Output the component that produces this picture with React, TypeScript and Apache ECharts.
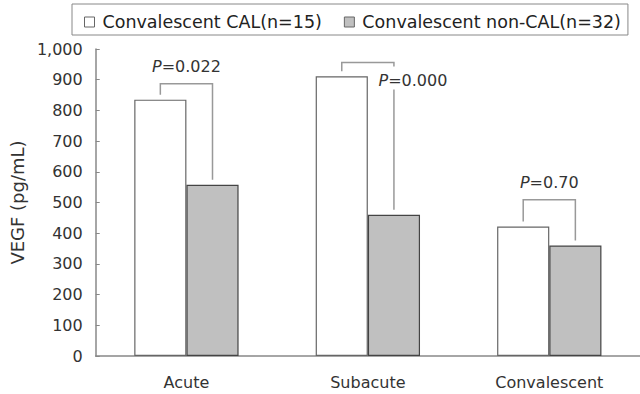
import React, { useEffect, useRef } from "react";
import * as echarts from "echarts";

// VEGF levels by disease phase
const phases = ["Acute", "Subacute", "Convalescent"];
const calValues = [835, 911, 422];
const nonCalValues = [558, 460, 360];
const bracketTops = [887, 956, 509];
const pLabels = ["0.022", "0.000", "0.70"];
const labelBesideLeg = [false, true, false];
const yTicks = [0, 100, 200, 300, 400, 500, 600, 700, 800, 900, 1000];

const seriesNames = ["Convalescent CAL(n=15)", "Convalescent non-CAL(n=32)"];

const FONT = "DejaVu Sans";
const CATEGORY_GAP = 0.425;

export default function App() {
  const ref = useRef<HTMLDivElement>(null);

  useEffect(() => {
    if (!ref.current) return;
    const chart = echarts.init(ref.current, undefined, { renderer: "svg" });

    const bracketData = phases.map((_, i) => [
      i,
      calValues[i],
      nonCalValues[i],
      bracketTops[i],
    ]);

    const lineStyle = { stroke: "#999", lineWidth: 1.5, fill: null };

    const option: any = {
      animation: false,
      backgroundColor: "#fff",
      textStyle: { fontFamily: FONT },
      legend: {
        left: 72,
        top: 4,
        padding: [9, 7, 4, 12],
        itemGap: 22,
        itemWidth: 10,
        itemHeight: 10,
        icon: "rect",
        borderColor: "#888",
        borderWidth: 1,
        textStyle: {
          fontFamily: FONT,
          fontSize: 17.5,
          color: "#222",
          padding: [0, 0, 0, 3],
        },
        data: [
          {
            name: seriesNames[0],
            itemStyle: { color: "#fff", borderColor: "#666", borderWidth: 1 },
          },
          {
            name: seriesNames[1],
            itemStyle: { color: "#c0c0c0", borderColor: "#666", borderWidth: 1 },
          },
        ],
      },
      grid: { left: 89, top: 49, width: 564, height: 307 },
      xAxis: {
        type: "category",
        data: phases,
        axisLine: { lineStyle: { color: "#888", width: 1.5 } },
        axisTick: { inside: true, length: 4, lineStyle: { color: "#888" } },
        axisLabel: {
          fontFamily: FONT,
          fontSize: 16,
          color: "#333",
          margin: 18,
        },
      },
      yAxis: {
        type: "value",
        min: yTicks[0],
        max: yTicks[yTicks.length - 1],
        interval: 100,
        name: "VEGF (pg/mL)",
        nameLocation: "middle",
        nameGap: 49,
        nameTextStyle: { fontFamily: FONT, fontSize: 18, color: "#333" },
        axisLine: { show: true, lineStyle: { color: "#888", width: 1.5 } },
        axisTick: { show: true, inside: true, length: 4, lineStyle: { color: "#888" } },
        splitLine: { show: false },
        axisLabel: {
          fontFamily: FONT,
          fontSize: 16,
          color: "#333",
          margin: 13,
          formatter: (v: number) => v.toLocaleString("en-US"),
        },
      },
      series: [
        {
          name: seriesNames[0],
          type: "bar",
          data: calValues,
          barGap: "0%",
          barCategoryGap: CATEGORY_GAP * 100 + "%",
          itemStyle: { color: "#fff", borderColor: "#666", borderWidth: 1.2 },
        },
        {
          name: seriesNames[1],
          type: "bar",
          data: nonCalValues,
          barGap: "0%",
          barCategoryGap: CATEGORY_GAP * 100 + "%",
          itemStyle: { color: "#c0c0c0", borderColor: "#444", borderWidth: 1.2 },
        },
        {
          type: "custom",
          data: bracketData,
          silent: true,
          z: 5,
          renderItem: (params: any, api: any) => {
            const idx = api.value(0);
            const i = params.dataIndex;
            const center = api.coord([idx, 0]);
            const band = api.size([1, 0])[0];
            const barW = (band * (1 - CATEGORY_GAP)) / 2;
            const xl = center[0] - barW / 2;
            const xr = center[0] + barW / 2;
            const gap = 5;
            const yl = api.coord([idx, api.value(1)])[1] - gap;
            const yr = api.coord([idx, api.value(2)])[1] - gap;
            const top = api.coord([idx, api.value(3)])[1];
            const text = "{i|P}=" + pLabels[i];
            const textStyleBase = {
              text,
              fontFamily: FONT,
              fontSize: 16,
              fill: "#333",
              align: "center",
              verticalAlign: "middle",
              rich: {
                i: { fontStyle: "italic", fontFamily: FONT, fontSize: 16, fill: "#333" },
              },
            };
            const children: any[] = [];
            if (labelBesideLeg[i]) {
              children.push({
                type: "polyline",
                shape: { points: [[xl, yl], [xl, top], [xr, top], [xr, top + 4]] },
                style: lineStyle,
              });
              children.push({
                type: "line",
                shape: { x1: xr, y1: top + 27, x2: xr, y2: yr },
                style: lineStyle,
              });
              children.push({
                type: "text",
                x: xr + 19,
                y: top + 18,
                style: textStyleBase,
              });
            } else {
              children.push({
                type: "polyline",
                shape: { points: [[xl, yl], [xl, top], [xr, top], [xr, yr]] },
                style: lineStyle,
              });
              children.push({
                type: "text",
                x: (xl + xr) / 2,
                y: top - 17,
                style: textStyleBase,
              });
            }
            return { type: "group", children };
          },
        },
      ],
    };

    chart.setOption(option);
    return () => chart.dispose();
  }, []);

  return (
    <div
      ref={ref}
      style={{ position: "fixed", left: 0, top: 0, width: 640, height: 394 }}
    />
  );
}
